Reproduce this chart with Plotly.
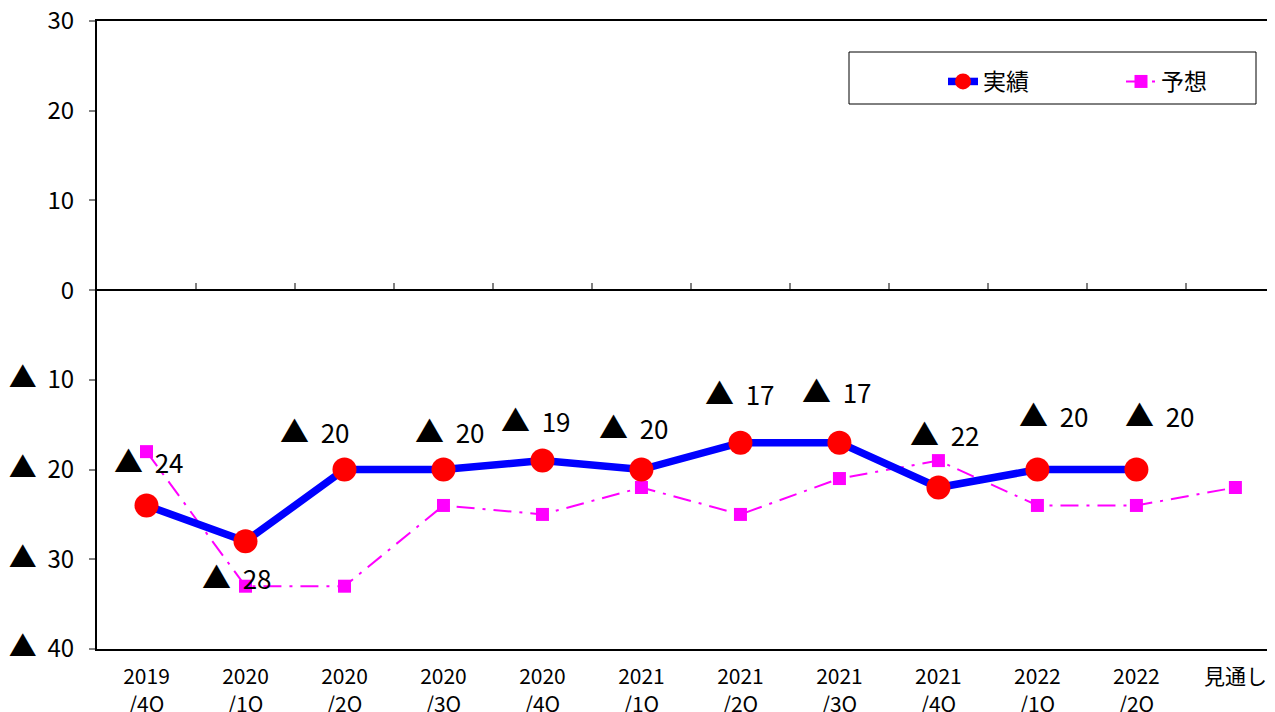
import plotly.graph_objects as go

categories = ["2019<br>/4Q", "2020<br>/1Q", "2020<br>/2Q", "2020<br>/3Q", "2020<br>/4Q",
              "2021<br>/1Q", "2021<br>/2Q", "2021<br>/3Q", "2021<br>/4Q",
              "2022<br>/1Q", "2022<br>/2Q", "見通し"]
actual = [-24, -28, -20, -20, -19, -20, -17, -17, -22, -20, -20]
forecast = [-18, -33, -33, -24, -25, -22, -25, -21, -19, -24, -24, -22]
y_tickvals = [-40, -30, -20, -10, 0, 10, 20, 30]
y_ticktext = ["▲ 40", "▲ 30", "▲ 20", "▲ 10", "0", "10", "20", "30"]

# label offsets (px) relative to each actual point
label_dx = [2, -8, -29, 7, -6, -7, 0, -2, 7, 17, 24]
label_dy = [45, -35, 40, 40, 42, 44, 51, 53, 55, 56, 56]

FONT = "Noto Sans CJK JP"
OFF = 8                     # page body margin
W, H = 1275 - OFF, 712 - OFF
ML, MT = 97 - OFF, 21 - OFF
MB = H - (649 - OFF)

xidx = list(range(len(categories)))
xr = [-0.5, 11.4]

def tri(label, size, gap=" "):
    if label.startswith("▲"):
        return f"<span style='font-size:{size}px'>▲</span>{gap}" + label[1:].strip()
    return label

fig = go.Figure()
fig.add_trace(go.Scatter(
    x=xidx, y=forecast, name="予想", mode="lines+markers",
    line=dict(color="#FF00FF", width=2, dash="18px,8px,3px,8px"),
    marker=dict(symbol="square", size=13, color="#FF00FF"),
    hoverinfo="skip"))
fig.add_trace(go.Scatter(
    x=xidx[:len(actual)], y=actual, name="実績", mode="lines+markers",
    line=dict(color="#0000FF", width=7.5),
    marker=dict(symbol="circle", size=24, color="#FF0000"),
    hoverinfo="skip"))
# invisible trace carrying the zero-line axis
fig.add_trace(go.Scatter(x=[xr[0]], y=[0], xaxis="x2", mode="none",
                         showlegend=False, hoverinfo="skip"))

for i, v in enumerate(actual):
    fig.add_annotation(x=i, y=v, text=tri(f"▲ {abs(v)}", 29, "\u00a0 "),
                       showarrow=False,
                       xshift=label_dx[i], yshift=label_dy[i],
                       font=dict(family=FONT, size=26, color="black"))

pw = W - ML
ph = H - MT - MB
def px2x(px):
    return (px - OFF - ML) / pw
def px2y(py):
    return (H - MB - (py - OFF)) / ph

# legend box
fig.add_shape(type="rect", xref="paper", yref="paper",
              x0=px2x(849), x1=px2x(1256), y0=px2y(104), y1=px2y(52),
              line=dict(color="black", width=1), fillcolor="rgba(0,0,0,0)")

fig.update_layout(
    width=W, height=H,
    margin=dict(l=ML, r=0, t=MT, b=MB, autoexpand=False),
    plot_bgcolor="white", paper_bgcolor="white",
    font=dict(family=FONT, color="black"),
    showlegend=True,
    legend=dict(orientation="h", x=px2x(943), y=px2y(60),
                xanchor="left", yanchor="top",
                font=dict(family=FONT, size=23), entrywidth=133,
                bgcolor="rgba(0,0,0,0)", borderwidth=0,
                traceorder="reversed"),
    xaxis=dict(type="linear", range=xr, tickmode="array", tickvals=xidx,
               ticktext=categories, showgrid=False, zeroline=False,
               showline=True, linecolor="black", linewidth=2, mirror=True,
               ticks="", tickfont=dict(family=FONT, size=21),
               ticklabelstandoff=8, automargin=False,
               ticklabeloverflow="allow"),
    xaxis2=dict(type="linear", range=xr, overlaying="x", anchor="free",
                position=40 / 70, side="bottom", showline=True,
                linecolor="black", linewidth=1.5, showgrid=False,
                zeroline=False, tickmode="array",
                tickvals=[i + 0.5 for i in xidx], ticks="inside",
                ticklen=6, tickcolor="#808080", tickwidth=1.5,
                showticklabels=False, automargin=False),
    yaxis=dict(range=[-40, 30], tickmode="array", tickvals=y_tickvals,
               ticktext=[tri(t, 28, "\u00a0 ") for t in y_ticktext],
               showgrid=False, zeroline=False,
               showline=True, linecolor="black", linewidth=2,
               ticks="outside", ticklen=6, tickcolor="#808080", tickwidth=1.5,
               tickfont=dict(family=FONT, size=24), ticklabelstandoff=10,
               automargin=False, ticklabeloverflow="allow"),
)

fig.write_html("out.html")
